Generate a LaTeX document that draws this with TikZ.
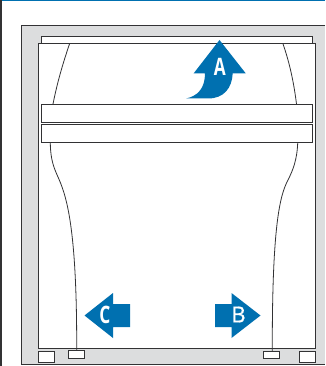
\documentclass[tikz,border=0pt]{standalone}
\usepackage{fontspec}
\setmainfont{Open Sans}
\newfontfamily\midweight[FakeBold=0.8]{Open Sans}
\definecolor{panelgray}{RGB}{220,221,222}
\definecolor{arrowblue}{RGB}{0,112,176}
\definecolor{linedark}{RGB}{50,50,52}
\tikzset{
  wall/.style={draw=linedark,line width=1pt},
  whitebox/.style={wall,fill=white},
  curveline/.style={draw=linedark,line width=0.8pt},
  bluearrow/.style={fill=arrowblue,draw=none},
  letter/.style={text=white,font=\fontsize{#1}{#1}\selectfont\bfseries,inner sep=0pt,xscale=.72},
  thinletter/.style={text=white,font=\midweight\fontsize{#1}{#1}\selectfont,inner sep=0pt}
}
\begin{document}
\begin{tikzpicture}[x=1pt,y=-1pt]
\useasboundingbox (0,0) rectangle (325,366);
\fill[white] (0,0) rectangle (325,366);
\fill[arrowblue] (2,0) rectangle (325,1.2);
\fill[linedark] (0,0) rectangle (1.6,366);
% cabinet
\filldraw[wall,fill=panelgray] (325,26) -- (21,26) -- (21,364.5) -- (325,364.5);
\filldraw[whitebox] (38.5,44) rectangle (315,348.5);
\filldraw[whitebox] (41.5,36.5) rectangle (312.5,44);
% curves
\draw[curveline] (69.5,44) .. controls (62,66) and (57,84) .. (53,104);
\draw[curveline] (296.5,104) .. controls (294,84) and (290,64) .. (283,44);
\draw[curveline] (50.3,143) .. controls (50.5,160) and (54,168) .. (58,177) .. controls (66,195) and (77,225) .. (76.7,350);
\draw[curveline] (297.7,143) .. controls (297,160) and (293,170) .. (288,180) .. controls (280,195) and (272,225) .. (272.3,351);
% bars
\filldraw[whitebox] (41.5,104.3) rectangle (312.5,122.6);
\filldraw[whitebox] (41.5,124.4) rectangle (312.5,143);
% feet
\node[whitebox,minimum width=16pt,minimum height=10.5pt,inner sep=0pt] (foota) at (46.5,357) {};
\node[whitebox,minimum width=16pt,minimum height=7.5pt,inner sep=0pt] (footb) at (76.8,354.3) {};
\node[whitebox,minimum width=16pt,minimum height=7.5pt,inner sep=0pt] (footc) at (271,355) {};
\node[whitebox,minimum width=16pt,minimum height=10.5pt,inner sep=0pt] (footd) at (307,357) {};
% arrow A
\fill[bluearrow] (219.5,40) -- (245.7,73.3) -- (232.7,73.3)
  .. controls (232,88) and (224,98.5) .. (208,98.5) -- (186,98.5)
  .. controls (198,96) and (205,88) .. (205,73.3) -- (193.7,73.3) -- cycle;
\node[letter=24] (la) at (219.8,67) {A};
% arrow C
\fill[bluearrow] (84.5,315.5) -- (113,293) -- (113,304) -- (130,304) -- (130,327) -- (113,327) -- (113,338) -- cycle;
\node[letter=24] (lc) at (105,314.5) {C};
% arrow B
\fill[bluearrow] (260.5,315.5) -- (231.5,293) -- (231.5,304) -- (215,304) -- (215,327) -- (231.5,327) -- (231.5,338) -- cycle;
\node[thinletter=22] (lb) at (238.5,314.5) {B};
\end{tikzpicture}
\end{document}
